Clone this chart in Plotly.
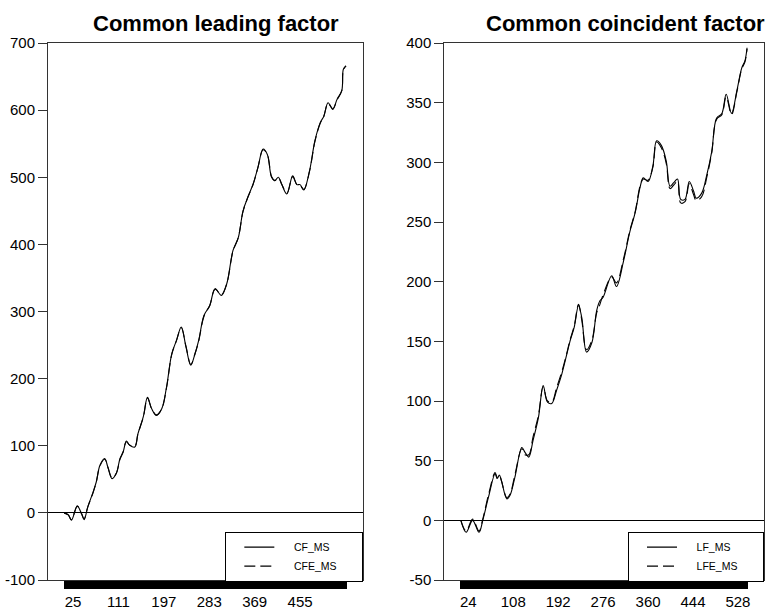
import plotly.graph_objects as go

# ---------------- data ----------------
left_obs = [8,16,22,33,41,46,53,63,69,76,85,91,99,107,114,120,126,132,142,148,158,166,174,183,193,
            202,212,221,230,239,248,256,263,273,284,294,306,316,328,338,347,357,366,375,385,393,401,
            407,414,420,430,441,449,455,462,473,483,493,500,508,517,525,534,537,542]
cf_ms = [0,-3,-11,10,-1,-10,9,31,46,71,81,68,51,59,81,91,107,101,98,118,143,172,155,145,155,
         187,237,257,277,247,220,237,257,294,309,334,324,341,391,410,450,472,490,514,542,534,500,
         495,500,490,475,502,489,489,481,510,554,581,591,611,601,616,629,661,666]
cfe_ms = [0,-3,-10,10,-1,-9,9,30,46,70,80,68,52,59,80,91,106,101,99,118,142,171,155,146,155,
          186,236,257,276,248,221,237,256,293,309,333,325,341,390,410,449,472,489,514,541,534,501,
          495,499,490,476,501,489,488,482,509,553,580,591,610,602,615,629,660,666]

right_obs = [10,20,32,44,51,62,74,78,82,86,96,102,111,124,130,137,145,155,164,172,180,189,199,208,
             214,222,230,236,245,255,264,270,276,292,301,314,326,336,345,351,360,369,376,385,394,
             401,408,415,421,429,437,445,450,460,470,479,488,498,506,516,526,535,541,545]
lf_ms = [0,-10,0,-10,0,20,39,35,38,33,18,21,36,61,57,53,67,86,113,99,98,109,123,139,150,162,180,
         170,141,149,176,184,187,205,196,217,242,258,279,287,284,297,318,314,301,280,283,286,269,
         269,284,276,270,274,290,309,337,341,357,341,360,379,385,396]
lfe_ms = [0,-9,1,-9,1,22,40,36,38,33,19,22,38,60,55,55,70,88,112,100,99,111,125,140,151,163,181,
          168,143,151,174,181,189,204,199,219,243,259,280,286,285,296,317,312,299,278,281,284,266,
          267,282,273,268,271,288,308,336,340,355,340,359,378,384,395]

left_labels = [25, 111, 197, 283, 369, 455]
right_labels = [24, 108, 192, 276, 360, 444, 528]
left_yticks = list(range(-100, 701, 100))
right_yticks = list(range(-50, 401, 50))

titles = ["Common leading factor", "Common coincident factor"]
legend_names = [["CF_MS", "CFE_MS"], ["LF_MS", "LFE_MS"]]

FONT = "Liberation Sans, Arial, sans-serif"
AXC = "#333333"
NB = "\u00a0"


def lname(s):
    return NB * 5 + s + NB * 7


fig = go.Figure()
fig.add_trace(go.Scatter(x=left_obs, y=cf_ms, name=lname(legend_names[0][0]), mode="lines",
                         line=dict(color="black", width=1.1, shape="spline"),
                         xaxis="x", yaxis="y", legend="legend"))
fig.add_trace(go.Scatter(x=left_obs, y=cfe_ms, name=lname(legend_names[0][1]), mode="lines",
                         line=dict(color="black", width=1.1, dash="11px,5px", shape="spline"),
                         xaxis="x", yaxis="y", legend="legend"))
fig.add_trace(go.Scatter(x=right_obs, y=lf_ms, name=lname(legend_names[1][0]), mode="lines",
                         line=dict(color="black", width=1.1, shape="spline"),
                         xaxis="x2", yaxis="y2", legend="legend2"))
fig.add_trace(go.Scatter(x=right_obs, y=lfe_ms, name=lname(legend_names[1][1]), mode="lines",
                         line=dict(color="black", width=1.1, dash="11px,5px", shape="spline"),
                         xaxis="x2", yaxis="y2", legend="legend2"))


def xaxis_cfg(domain, obs, labels, rng):
    vals = list(range(obs[0], obs[-1] + 2))
    text = [str(v) if v in labels else "" for v in vals]
    return dict(domain=domain, range=rng, tickmode="array", tickvals=vals, ticktext=text,
                ticks="outside", ticklen=8, tickwidth=1, tickcolor="black", tickangle=0,
                showline=True, linecolor=AXC, linewidth=1, mirror=True, automargin=False,
                showgrid=False, zeroline=False,
                tickfont=dict(family=FONT, size=15, color="black"))


def yaxis_cfg(anchor, ticks, rng):
    return dict(anchor=anchor, range=rng, tickmode="array", tickvals=ticks,
                ticktext=[str(v) for v in ticks],
                ticks="outside", ticklen=9, tickwidth=1, tickcolor=AXC,
                showline=True, linecolor=AXC, linewidth=1, mirror=True, automargin=False,
                showgrid=False, zeroline=True, zerolinecolor="black", zerolinewidth=1,
                tickfont=dict(family=FONT, size=15, color="black"))


leg = dict(yanchor="bottom", y=-0.003, xanchor="right", bgcolor="white",
           bordercolor="black", borderwidth=1, tracegroupgap=0, itemwidth=30,
           indentation=13,
           font=dict(family=FONT, size=10.5, color="black"))

fig.update_layout(
    template="none",
    width=769, height=613,
    margin=dict(l=48, r=5, t=43, b=33),
    paper_bgcolor="white", plot_bgcolor="white",
    showlegend=True,
    xaxis=xaxis_cfg([0, 0.4404], left_obs, left_labels, [-22.4, 574.8]),
    yaxis=yaxis_cfg("x", left_yticks, [-100, 700]),
    xaxis2=xaxis_cfg([0.5535, 1], right_obs, right_labels, [-20.9, 576.7]),
    yaxis2=yaxis_cfg("x2", right_yticks, [-50, 400]),
    legend=dict(x=0.4404, **leg),
    legend2=dict(x=1.0, **leg),
    annotations=[
        dict(text=f"<b>{titles[0]}</b>", x=0.2346, y=1.01, xref="paper", yref="paper",
             xanchor="center", yanchor="bottom", showarrow=False,
             font=dict(family=FONT, size=22, color="black")),
        dict(text=f"<b>{titles[1]}</b>", x=0.806, y=1.01, xref="paper", yref="paper",
             xanchor="center", yanchor="bottom", showarrow=False,
             font=dict(family=FONT, size=22, color="black")),
    ],
)

fig.write_html("out.html", config={"displayModeBar": False},
               post_script="document.body.style.margin='0';")
